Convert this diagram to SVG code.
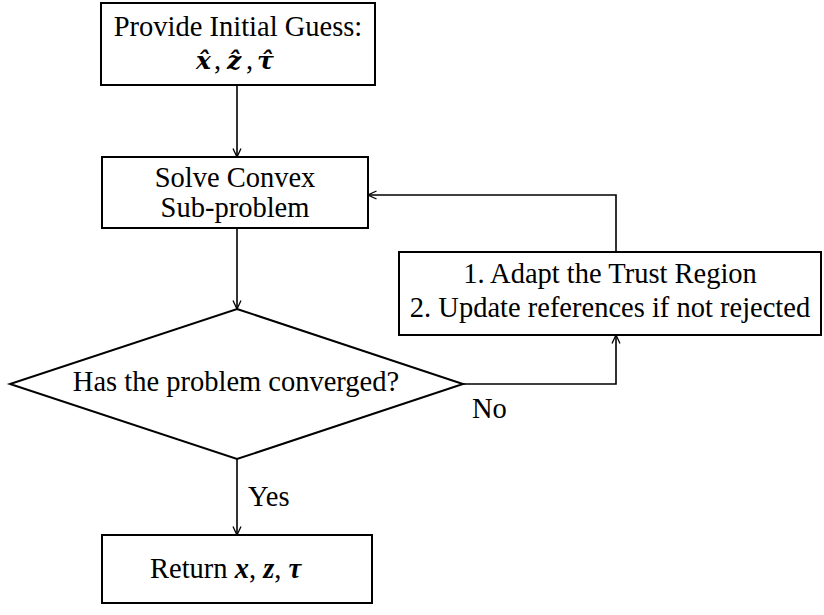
<svg xmlns="http://www.w3.org/2000/svg" width="824" height="615" viewBox="0 0 824 615">
<defs>
<marker id="ah" viewBox="0 0 10 10" refX="9.5" refY="5" markerWidth="10" markerHeight="10" markerUnits="userSpaceOnUse" orient="auto">
<path d="M1,1 L9.5,5 L1,9" fill="none" stroke="#000" stroke-width="1.3"/>
</marker>
<style>
.box{fill:#fff;stroke:#000;stroke-width:2}
.ln{fill:none;stroke:#000;stroke-width:1.6}
.t{font-family:"Liberation Serif","Times New Roman",serif;font-size:28.5px;fill:#000}
.m{font-style:italic;font-weight:bold}
.dv{font-family:"DejaVu Serif",serif;font-size:25px}
</style>
</defs>
<rect width="824" height="615" fill="#fff"/>
<g id="connectors">
<line class="ln" x1="237" y1="85" x2="237" y2="157" marker-end="url(#ah)"/>
<line class="ln" x1="237" y1="228" x2="237" y2="309" marker-end="url(#ah)"/>
<line class="ln" x1="237" y1="459" x2="237" y2="535" marker-end="url(#ah)"/>
<polyline class="ln" points="463,384 616,384 616,335" marker-end="url(#ah)"/>
<polyline class="ln" points="616,252 616,195 368,195" marker-end="url(#ah)"/>
<text class="t" x="472" y="418">No</text>
<text class="t" x="248" y="506">Yes</text>
</g>
<g id="start">
<rect class="box" x="101" y="3" width="274" height="82"/>
<text class="t" x="238" y="36" text-anchor="middle">Provide Initial Guess:</text>
<text class="t" y="69"><tspan class="m dv" x="196">x̂</tspan><tspan x="214">,</tspan><tspan class="m dv" x="227">ẑ</tspan><tspan x="246">,</tspan><tspan class="m dv" x="257">τ̂</tspan></text>
</g>
<g id="solve">
<rect class="box" x="102" y="157" width="266" height="71"/>
<text class="t" x="235" y="187" text-anchor="middle">Solve Convex</text>
<text class="t" x="235" y="217" text-anchor="middle">Sub-problem</text>
</g>
<g id="decision">
<polygon class="box" points="237,309 463,384 237,459 10,384"/>
<text class="t" x="236" y="391" text-anchor="middle">Has the problem converged?</text>
</g>
<g id="adapt">
<rect class="box" x="399" y="252" width="422" height="83"/>
<text class="t" x="610" y="283" text-anchor="middle">1. Adapt the Trust Region</text>
<text class="t" x="610" y="317" text-anchor="middle">2. Update references if not rejected</text>
</g>
<g id="return">
<rect class="box" x="102" y="535" width="270" height="68"/>
<text class="t" x="150" y="578">Return <tspan class="m">x</tspan>, <tspan class="m">z</tspan>, <tspan class="m">τ</tspan></text>
</g>
</svg>
